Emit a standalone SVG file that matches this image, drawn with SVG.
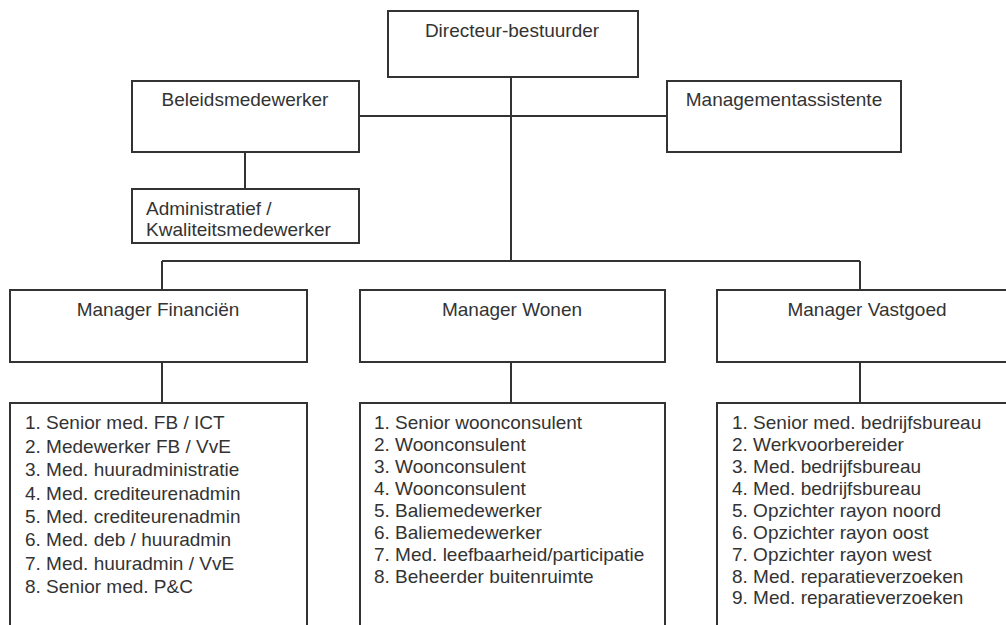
<svg xmlns="http://www.w3.org/2000/svg" width="1006" height="625" viewBox="0 0 1006 625">
<style>
.box{fill:#fff;stroke:#333;stroke-width:2}
.t{font-family:"Liberation Sans",Arial,sans-serif;font-size:19px;fill:#333}
.c{text-anchor:middle}
.ln{stroke:#333;stroke-width:2;fill:none}
</style>
<rect width="1006" height="625" fill="#fff"/>
<g id="connectors">
<path class="ln" d="M511 77V261"/>
<path class="ln" d="M359 116H667"/>
<path class="ln" d="M245 152V189"/>
<path class="ln" d="M162 261H860"/>
<path class="ln" d="M162 261V290"/>
<path class="ln" d="M860 261V290"/>
<path class="ln" d="M162 362V403"/>
<path class="ln" d="M511 362V403"/>
<path class="ln" d="M860 362V403"/>
</g>
<g id="directeur"><rect class="box" x="388" y="11" width="250" height="66"/><text class="t c" x="512" y="37">Directeur-bestuurder</text></g>
<g id="beleidsmedewerker"><rect class="box" x="132" y="81" width="227" height="71"/><text class="t c" x="245" y="106">Beleidsmedewerker</text></g>
<g id="managementassistente"><rect class="box" x="667" y="81" width="234" height="71"/><text class="t c" x="784" y="106">Managementassistente</text></g>
<g id="administratief"><rect class="box" x="132" y="189" width="227" height="54"/><text class="t" x="146" y="215">Administratief /</text><text class="t" x="146" y="236">Kwaliteitsmedewerker</text></g>
<g id="manager-financien"><rect class="box" x="10" y="290" width="297" height="72"/><text class="t c" x="158" y="316">Manager Financiën</text></g>
<g id="manager-wonen"><rect class="box" x="360" y="290" width="305" height="72"/><text class="t c" x="512" y="316">Manager Wonen</text></g>
<g id="manager-vastgoed"><rect class="box" x="717" y="290" width="300" height="72"/><text class="t c" x="867" y="316">Manager Vastgoed</text></g>
<g id="lijst-financien"><rect class="box" x="10" y="403" width="297" height="240"/>
<text class="t" x="25" y="429">1. Senior med. FB / ICT</text>
<text class="t" x="25" y="452.5">2. Medewerker FB / VvE</text>
<text class="t" x="25" y="476">3. Med. huuradministratie</text>
<text class="t" x="25" y="499.5">4. Med. crediteurenadmin</text>
<text class="t" x="25" y="523">5. Med. crediteurenadmin</text>
<text class="t" x="25" y="546">6. Med. deb / huuradmin</text>
<text class="t" x="25" y="569.5">7. Med. huuradmin / VvE</text>
<text class="t" x="25" y="593">8. Senior med. P&amp;C</text>
</g>
<g id="lijst-wonen"><rect class="box" x="360" y="403" width="305" height="240"/>
<text class="t" x="374" y="429">1. Senior woonconsulent</text>
<text class="t" x="374" y="451">2. Woonconsulent</text>
<text class="t" x="374" y="473">3. Woonconsulent</text>
<text class="t" x="374" y="495">4. Woonconsulent</text>
<text class="t" x="374" y="517">5. Baliemedewerker</text>
<text class="t" x="374" y="539">6. Baliemedewerker</text>
<text class="t" x="374" y="561">7. Med. leefbaarheid/participatie</text>
<text class="t" x="374" y="583">8. Beheerder buitenruimte</text>
</g>
<g id="lijst-vastgoed"><rect class="box" x="717" y="403" width="300" height="240"/>
<text class="t" x="732" y="429">1. Senior med. bedrijfsbureau</text>
<text class="t" x="732" y="451">2. Werkvoorbereider</text>
<text class="t" x="732" y="473">3. Med. bedrijfsbureau</text>
<text class="t" x="732" y="494.5">4. Med. bedrijfsbureau</text>
<text class="t" x="732" y="516.5">5. Opzichter rayon noord</text>
<text class="t" x="732" y="538.5">6. Opzichter rayon oost</text>
<text class="t" x="732" y="560.5">7. Opzichter rayon west</text>
<text class="t" x="732" y="582.5">8. Med. reparatieverzoeken</text>
<text class="t" x="732" y="604">9. Med. reparatieverzoeken</text>
</g>
</svg>
